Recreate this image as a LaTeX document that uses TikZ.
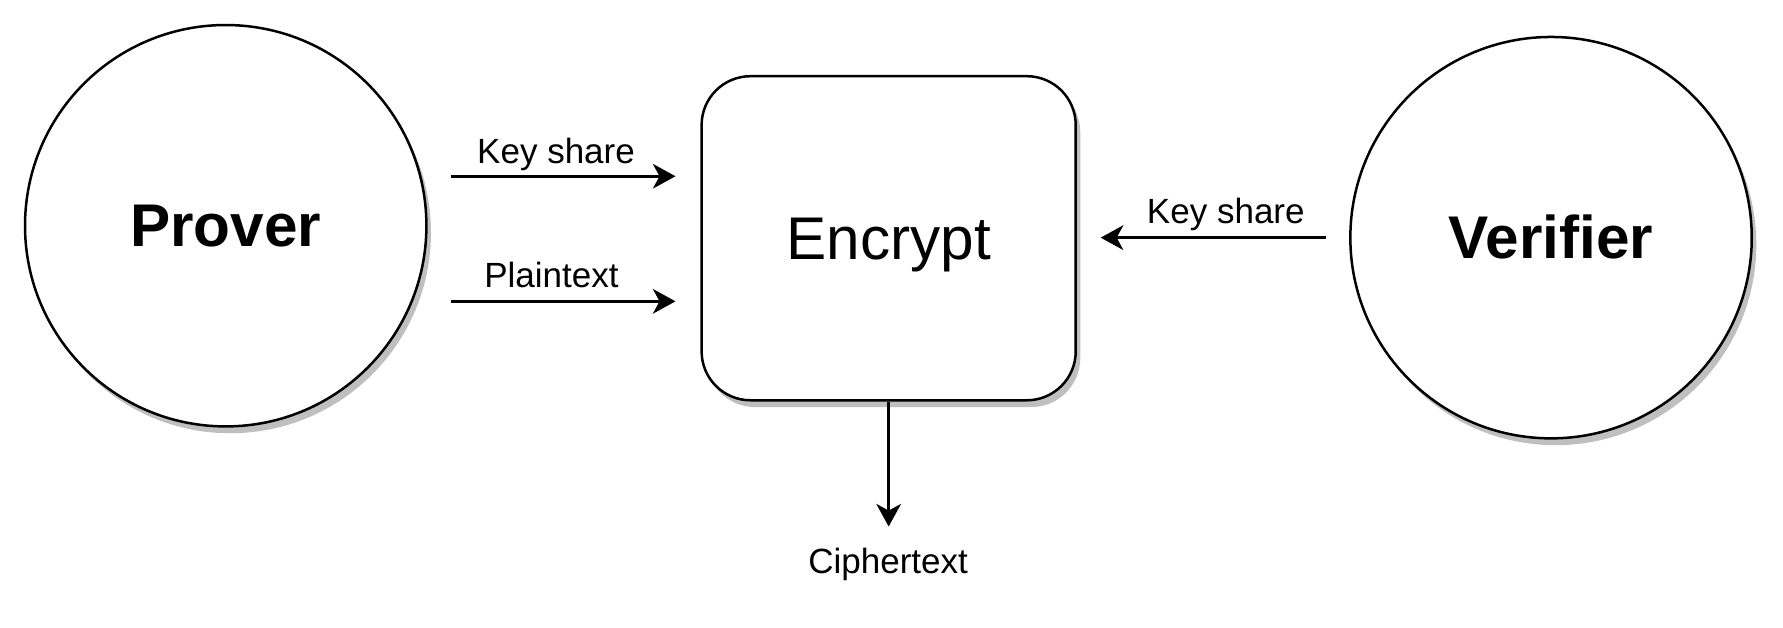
\documentclass[tikz,border=0pt]{standalone}
\usepackage{fontspec}
\setmainfont{Liberation Sans}
\usetikzlibrary{arrows.meta,shadows}
\tikzset{
  party/.style={circle,draw,line width=2.2pt,fill=white,minimum size=353pt,inner sep=0pt,
    text height=36pt,text depth=0pt,font=\fontsize{53}{63}\selectfont\bfseries,
    drop shadow={shadow xshift=4pt,shadow yshift=-6pt,fill=black!25,opacity=1}},
  boxnode/.style={rectangle,rounded corners=43pt,draw,line width=2.2pt,fill=white,
    minimum width=329pt,minimum height=285pt,inner sep=0pt,
    text height=38pt,text depth=0pt,font=\fontsize{53}{63}\selectfont,
    drop shadow={shadow xshift=4pt,shadow yshift=-6pt,fill=black!25,opacity=1}},
  lbl/.style={anchor=base,inner sep=0pt,font=\fontsize{30.8}{37}\selectfont},
  flow/.style={line width=2.2pt,-{Stealth[length=20pt,width=22pt,inset=6pt,line width=0pt]}}
}
\begin{document}
\begin{tikzpicture}[x=1pt,y=-1pt]
\useasboundingbox (0,0) rectangle (1568,552);
\node[party] (prover) at (198.5,198.5) {Prover};
\node[boxnode] (enc) at (781.5,209.5) {Encrypt};
\node[party] (verifier) at (1364,209) {Verifier};
% free ends of the arrows
\coordinate (ksin) at (397,155);
\coordinate (ksend) at (594,155);
\coordinate (ptin) at (397,265);
\coordinate (ptend) at (594,265);
\coordinate (vkin) at (1166,209);
\coordinate (vkend) at (968,209);
\coordinate (ctend) at (781.5,463);
\draw[flow] (ksin) -- (ksend);
\draw[flow] (ptin) -- (ptend);
\draw[flow] (vkin) -- (vkend);
\draw[flow] (enc.south) -- (ctend);
% labels
\node[lbl] (kslbl) at (489,143.6) {Key share};
\node[lbl] (ptlbl) at (485,252.5) {Plaintext};
\node[lbl] (vklbl) at (1078,196.5) {Key share};
\node[lbl] (ctlbl) at (781,504.2) {Ciphertext};
\end{tikzpicture}
\end{document}
